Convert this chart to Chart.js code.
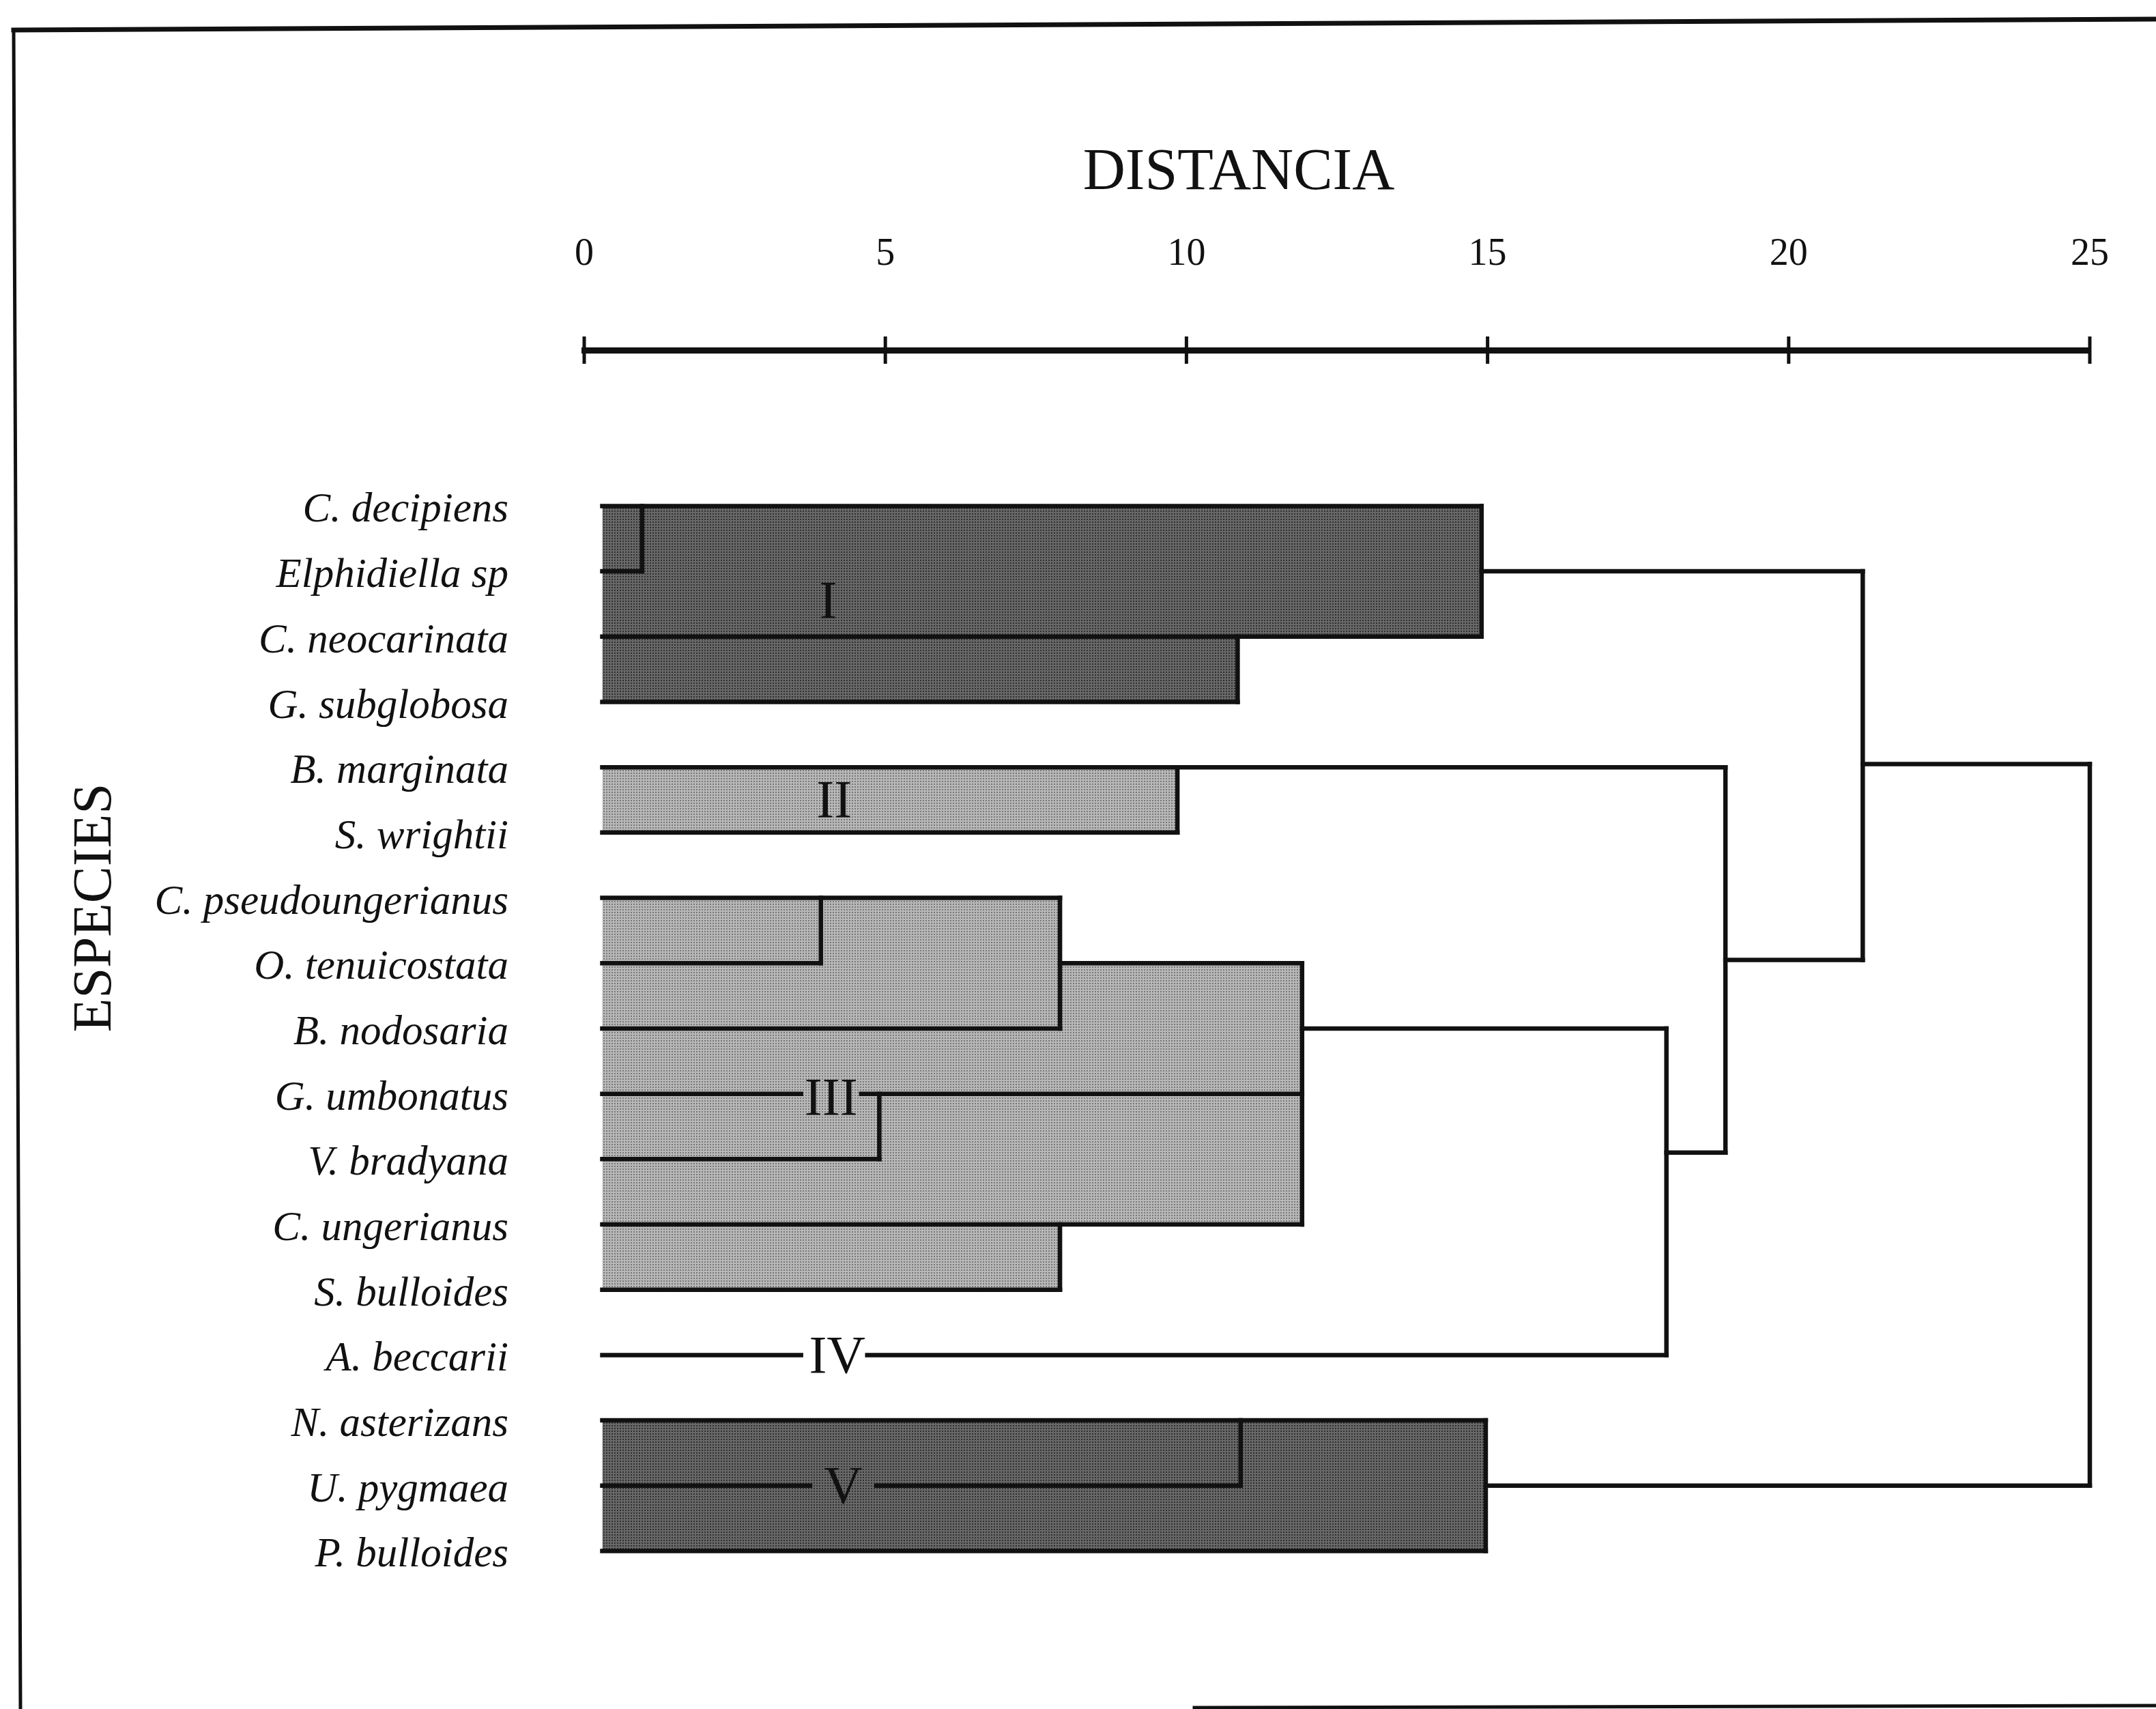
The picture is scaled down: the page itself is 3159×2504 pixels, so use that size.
<!DOCTYPE html>
<html>
<head>
<meta charset="utf-8">
<script src="https://cdn.jsdelivr.net/npm/chart.js@4/dist/chart.umd.min.js"></script>
<style>
  html, body { margin: 0; background: #fff; }
  canvas { display: block; }
</style>
</head>
<body>
<canvas id="dendro" width="3159" height="2504"></canvas>
<script>
// especies, de arriba hacia abajo (fila 1..17)
const species = [
  "C. decipiens", "Elphidiella sp", "C. neocarinata", "G. subglobosa",
  "B. marginata", "S. wrightii", "C. pseudoungerianus", "O. tenuicostata",
  "B. nodosaria", "G. umbonatus", "V. bradyana", "C. ungerianus",
  "S. bulloides", "A. beccarii", "N. asterizans", "U. pygmaea", "P. bulloides"
];
const distanceTicks = [0, 5, 10, 15, 20, 25];
const leafStart = 0.3;

// ramas horizontales: fila, desde, hasta (distancia)
const hRow  = [1, 2, 3, 4, 5, 6, 7, 8, 8, 9, 9, 10, 10, 11, 12, 13, 14, 14, 15, 16, 16, 17, 2, 10.9, 7.95, 4.95, 16];
const hFrom = [0.3, 0.3, 0.3, 0.3, 0.3, 0.3, 0.3, 0.3, 7.9, 0.3, 11.92, 0.3, 4.6, 0.3, 0.3, 0.3, 0.3, 4.7, 0.3, 0.3, 4.85, 0.3, 14.9, 17.97, 18.95, 21.23, 14.97];
const hTo   = [14.9, 0.96, 14.9, 10.85, 18.95, 9.85, 7.9, 3.93, 11.92, 7.9, 17.97, 3.6, 11.92, 4.9, 11.92, 7.9, 3.6, 17.97, 14.97, 3.75, 10.9, 14.97, 21.23, 18.95, 21.23, 25, 25];

// uniones verticales: distancia, fila superior, fila inferior
const vAt     = [0.96, 14.9, 10.85, 9.85, 3.93, 7.9, 4.9, 11.92, 7.9, 17.97, 18.95, 21.23, 25, 10.9, 14.97];
const vTop    = [1, 1, 3, 5, 7, 7, 10, 8, 12, 9, 5, 2, 4.95, 15, 15];
const vBottom = [2, 3, 4, 6, 8, 9, 11, 12, 13, 14, 10.9, 7.95, 16, 16, 17];

// grupos sombreados
const boxTop    = [1, 3, 5, 7, 8, 12, 15];
const boxBottom = [3, 4, 6, 9, 12, 13, 17];
const boxEnd    = [14.9, 10.85, 9.85, 7.9, 11.92, 7.9, 14.97];
const boxShade  = ["dark", "dark", "light", "light", "light", "light", "dark"];

// etiquetas de los grupos
const clusterNames = ["I", "II", "III", "IV", "V"];
const clusterX     = [4.05, 4.15, 4.1, 4.2, 4.3];
const clusterRow   = [2.5, 5.55, 10.1, 14.05, 16.05];

function shade(base, dot) {
  const c = document.createElement("canvas");
  c.width = c.height = 4;
  const g = c.getContext("2d");
  g.fillStyle = base;
  g.fillRect(0, 0, 4, 4);
  g.fillStyle = dot;
  g.fillRect(0, 0, 2, 2);
  return g.createPattern(c, "repeat");
}
const boxFill = { dark: shade("#686868", "#303030"), light: shade("#b8b8b8", "#787878") };

const boxSets = boxTop.map((top, i) => ({
  data: [{ x: leafStart, y: boxBottom[i] }, { x: boxEnd[i], y: boxBottom[i] }],
  fill: { value: top },
  backgroundColor: boxFill[boxShade[i]],
  borderColor: "transparent",
  borderWidth: 0,
  pointRadius: 0,
  order: 3
}));

const lineStyle = {
  borderColor: "#111",
  borderWidth: 6.5,
  borderCapStyle: "square",
  pointRadius: 0,
  fill: false,
  clip: false,
  order: 1
};
const branchSets = hRow.map((row, i) => ({
  ...lineStyle,
  data: [{ x: hFrom[i], y: row }, { x: hTo[i], y: row }]
}));
const linkSets = vAt.map((d, i) => ({
  ...lineStyle,
  data: [{ x: d, y: vTop[i] }, { x: d, y: vBottom[i] }]
}));

const yTop = -1.387;
const tickMarks = {
  data: distanceTicks.map(v => ({ x: v, y: yTop })),
  showLine: false,
  pointStyle: "line",
  rotation: 90,
  pointRadius: 20,
  pointBorderWidth: 5,
  pointBorderColor: "#111",
  clip: false,
  order: 0
};

const decorations = {
  id: "decorations",
  beforeDraw(chart) {
    const { ctx } = chart;
    ctx.save();
    ctx.fillStyle = "#fff";
    ctx.fillRect(0, 0, chart.width, chart.height);
    ctx.strokeStyle = "#111";
    ctx.lineCap = "square";
    ctx.lineWidth = 7;
    ctx.beginPath(); ctx.moveTo(20, 44); ctx.lineTo(3159, 28); ctx.stroke();
    ctx.lineWidth = 5;
    ctx.beginPath(); ctx.moveTo(20, 44); ctx.lineTo(30, 2504); ctx.stroke();
    ctx.beginPath(); ctx.moveTo(1750, 2502); ctx.lineTo(3159, 2499); ctx.stroke();
    ctx.restore();
  },
  afterDatasetsDraw(chart) {
    const { ctx, scales: { x, y } } = chart;
    ctx.save();
    ctx.fillStyle = "#111";
    ctx.textAlign = "center";
    ctx.textBaseline = "middle";
    ctx.font = '78px "Liberation Serif"';
    clusterNames.forEach((name, i) => {
      ctx.fillText(name, x.getPixelForValue(clusterX[i]), y.getPixelForValue(clusterRow[i]));
    });
    ctx.font = '86px "Liberation Serif"';
    ctx.fillText("DISTANCIA", 1815, 254);
    ctx.translate(141, 1330);
    ctx.rotate(-Math.PI / 2);
    ctx.font = '81px "Liberation Serif"';
    ctx.fillText("ESPECIES", 0, 0);
    ctx.restore();
  }
};

new Chart(document.getElementById("dendro").getContext("2d"), {
  type: "line",
  data: { datasets: [tickMarks, ...branchSets, ...linkSets, ...boxSets] },
  options: {
    responsive: false,
    animation: false,
    events: [],
    layout: { padding: { top: 0, left: 0, right: 97, bottom: 88 } },
    plugins: {
      legend: { display: false },
      tooltip: { enabled: false },
      filler: { drawTime: "beforeDatasetsDraw" }
    },
    scales: {
      x: {
        type: "linear",
        position: "top",
        suggestedMin: 0,
        suggestedMax: 25,
        afterFit: scale => {
          scale.height = 513;
          scale.paddingLeft = 0;
          scale.paddingRight = 0;
        },
        grid: { display: false, drawTicks: false },
        border: { display: true, width: 9, color: "#111" },
        ticks: {
          stepSize: 5,
          maxRotation: 0,
          padding: 106,
          color: "#111",
          font: { family: "Liberation Serif", size: 56 }
        }
      },
      y: {
        type: "linear",
        reverse: true,
        min: yTop,
        max: 18.5,
        afterFit: scale => {
          scale.width = 856;
          scale.paddingTop = 0;
          scale.paddingBottom = 0;
        },
        afterBuildTicks: scale => {
          scale.ticks = species.map((s, i) => ({ value: i + 1 }));
        },
        grid: { display: false, drawTicks: false },
        border: { display: false },
        ticks: {
          autoSkip: false,
          padding: 111,
          labelOffset: 7,
          color: "#111",
          font: { family: "Liberation Serif", size: 61, style: "italic" },
          callback: v => species[v - 1] || ""
        }
      }
    }
  },
  plugins: [decorations]
});
</script>
</body>
</html>
